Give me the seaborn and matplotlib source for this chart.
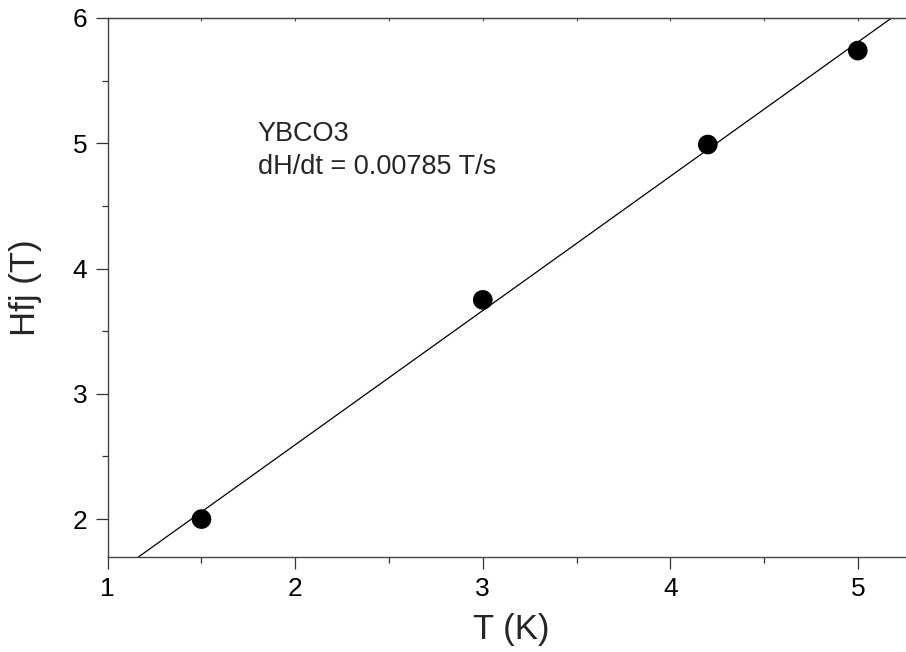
import numpy as np
import pandas as pd
import matplotlib
matplotlib.use("Agg")
import matplotlib.pyplot as plt
import seaborn as sns
from matplotlib.ticker import MultipleLocator

# Data
temperature_K = [1.5, 3.0, 4.2, 5.0]
hfj_T = [2.0, 3.75, 4.99, 5.74]
x_ticks = [1, 2, 3, 4, 5]
y_ticks = [2, 3, 4, 5, 6]
annotation_lines = ["YBCO3", "dH/dt = 0.00785 T/s"]

sns.set_style("ticks")
plt.rcParams["font.family"] = ["Liberation Sans", "DejaVu Sans"]

fig = plt.figure(figsize=(9.06, 6.52), dpi=100)
ax = fig.add_axes([0.1189, 0.1462, 0.8900, 0.8262])

df = pd.DataFrame({"T": temperature_K, "H": hfj_T})

# linear fit line
slope, intercept = np.polyfit(df["T"], df["H"], 1)
xfit = np.array([1.0, 5.3])
fit_df = pd.DataFrame({"T": xfit, "H": slope * xfit + intercept})
sns.lineplot(data=fit_df, x="T", y="H", ax=ax, color="black", linewidth=0.9)

sns.scatterplot(data=df, x="T", y="H", ax=ax, color="black", s=200,
                edgecolor="none", marker="o", zorder=3)

ax.set_xlim(1, 5.3)
ax.set_ylim(1.7, 6)
ax.set_xticks(x_ticks)
ax.set_yticks(y_ticks)
ax.xaxis.set_minor_locator(MultipleLocator(0.5))
ax.yaxis.set_minor_locator(MultipleLocator(0.5))

ax.tick_params(axis="both", which="major", direction="out", length=8.6,
               width=0.9, labelsize=19, colors="#333333", labelcolor="black")
ax.tick_params(axis="x", which="major", pad=6)
ax.tick_params(axis="y", which="major", pad=6)
ax.tick_params(axis="both", which="minor", direction="out", length=4.3,
               width=0.9, colors="#333333")

for side in ["left", "bottom", "top"]:
    ax.spines[side].set_visible(True)
    ax.spines[side].set_color("#444444")
    ax.spines[side].set_linewidth(1.0)
ax.spines["right"].set_visible(False)

# top inward ticks
sec = ax.secondary_xaxis("top")
sec.set_xticks(x_ticks)
sec.xaxis.set_minor_locator(MultipleLocator(0.5))
sec.tick_params(which="both", direction="in", length=2.5, width=0.8,
                labeltop=False, colors="#444444")
sec.spines["top"].set_color("#444444")

ax.set_xlabel("T (K)", fontsize=25, labelpad=9)
ax.set_ylabel("Hfj (T)", fontsize=25, labelpad=22)

ax.text(1.80, 5.022, annotation_lines[0], fontsize=19.5, va="baseline", ha="left")
ax.text(1.80, 4.757, annotation_lines[1], fontsize=19.5, va="baseline", ha="left")

fig.savefig("out.png", dpi=100)
